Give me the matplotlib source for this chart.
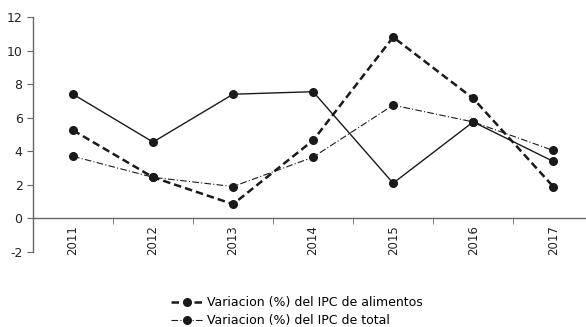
import numpy as np
import matplotlib.pyplot as plt

years = ['2011', '2012', '2013', '2014', '2015', '2016', '2017']
ipc_otro = [7.4, 4.55, 7.4, 7.55, 2.1, 5.75, 3.4]
ipc_alimentos = [5.25, 2.45, 0.85, 4.65, 10.8, 7.15, 1.9]
ipc_total = [3.7, 2.45, 1.9, 3.65, 6.75, 5.75, 4.05]

plt.rcParams['font.family'] = ['DejaVu Sans']
plt.rcParams['axes.unicode_minus'] = False

fig = plt.figure(figsize=(5.86, 3.27), dpi=100)
ax = fig.add_axes([33 / 586, 1 - 252 / 327, 1 - 33 / 586, (252 - 17) / 327])

x = np.arange(len(years))
col = '#1a1a1a'
ax.plot(x, ipc_otro, '-', color=col, lw=1.0, marker='o', ms=5.5)
ax.plot(x, ipc_alimentos, '--', color=col, lw=1.8, marker='o', ms=5.5,
        dashes=(3, 1.6), label='Variacion (%) del IPC de alimentos')
ax.plot(x, ipc_total, '-.', color=col, lw=0.8, marker='o', ms=5.5,
        dashes=(6, 2, 1, 2), label='Variacion (%) del IPC de total')

ax.set_ylim(-2, 12)
ax.set_yticks(np.arange(-2, 13, 2))
ax.set_xlim(-0.5, 6.41)
ax.set_xticks(x)
ax.set_xticklabels(years)
ax.set_xticks(np.arange(0.5, 6.5, 1), minor=True)

ax.spines['top'].set_visible(False)
ax.spines['right'].set_visible(False)
ax.spines['bottom'].set_position(('data', 0))
for s in ('left', 'bottom'):
    ax.spines[s].set_color('#666666')
    ax.spines[s].set_linewidth(1.0)

ax.tick_params(axis='x', which='major', length=0, pad=5, labelsize=8.5,
               labelrotation=90, colors='#222222')
ax.tick_params(axis='x', which='minor', length=4, color='#666666', direction='out')
ax.tick_params(axis='y', length=4, color='#666666', labelsize=9, labelcolor='#222222')

fig.legend(loc='center', bbox_to_anchor=(0.506, 0.046), frameon=False, fontsize=9,
           handlelength=2.6, labelspacing=0.4, handletextpad=0.3)

fig.savefig('out.png', dpi=100)
